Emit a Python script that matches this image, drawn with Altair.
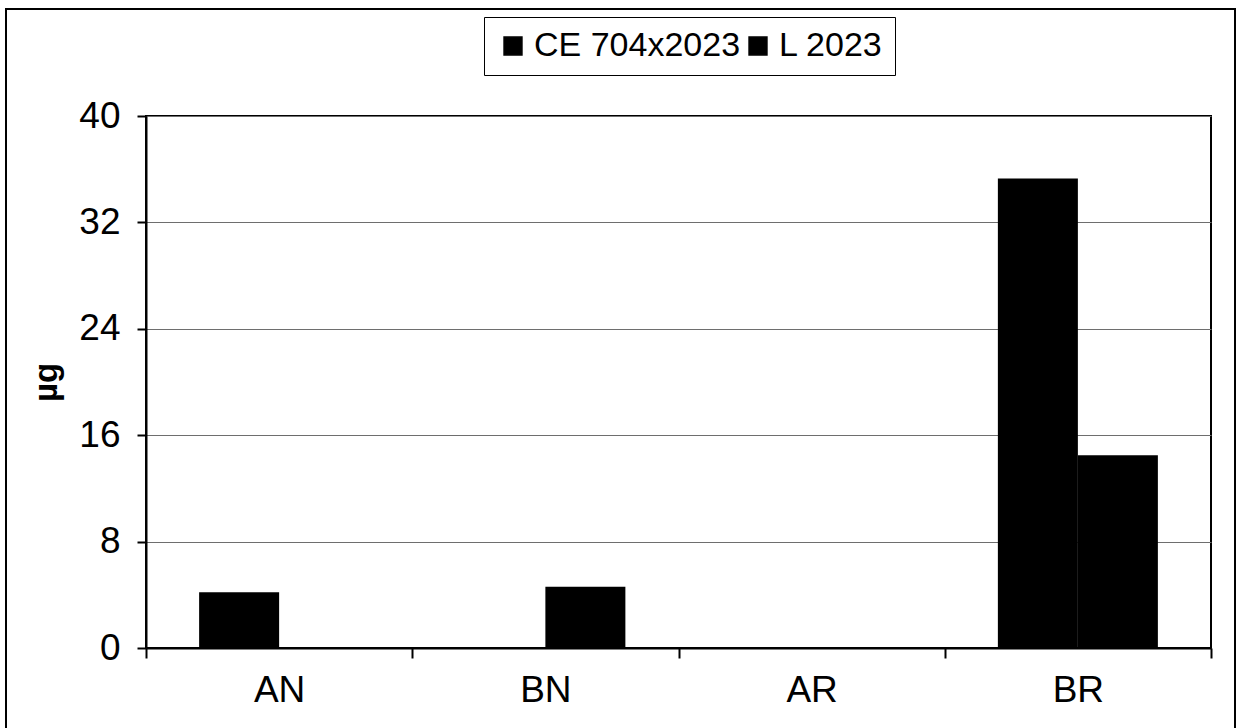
import altair as alt
import pandas as pd

# Categories and series
categories = ["AN", "BN", "AR", "BR"]
series = ["CE 704x2023", "L 2023"]
ce_values = [4.2, 0.0, 0.0, 35.3]
l_values = [0.0, 4.6, 0.0, 14.5]
y_ticks = [0, 8, 16, 24, 32, 40]

rows = []
for cat, ce, l in zip(categories, ce_values, l_values):
    rows.append({"cat": cat, "series": series[0], "value": ce})
    rows.append({"cat": cat, "series": series[1], "value": l})
df = pd.DataFrame(rows)

FONT = "Liberation Sans"
PLOT_W, PLOT_H = 1065, 532

bars = alt.Chart(df).mark_bar(color="black").encode(
    x=alt.X(
        "cat:N",
        sort=categories,
        scale=alt.Scale(paddingInner=0, paddingOuter=0),
        axis=alt.Axis(
            title=None,
            labelAngle=0,
            labelFontSize=37,
            labelFont=FONT,
            labelColor="black",
            labelPadding=14,
            tickBand="extent",
            tickSize=10,
            tickColor="black",
            tickWidth=2,
            domainColor="black",
            domainWidth=2,
            grid=False,
        ),
    ),
    xOffset=alt.XOffset(
        "series:N",
        sort=series,
        scale=alt.Scale(paddingInner=0, paddingOuter=0.664),
    ),
    y=alt.Y(
        "value:Q",
        scale=alt.Scale(domain=[0, 40], nice=False),
        axis=alt.Axis(
            values=y_ticks,
            title="µg",
            titleFont=FONT,
            titleFontSize=33,
            titleFontWeight="bold",
            titleColor="black",
            titleX=-100,
            titleY=PLOT_H / 2,
            titleAngle=-90,
            titleAlign="center",
            titleBaseline="middle",
            labelFontSize=37,
            labelFont=FONT,
            labelColor="black",
            labelPadding=17,
            tickSize=9,
            tickColor="black",
            tickWidth=2,
            domainColor="black",
            domainWidth=2,
            gridColor="#6e6e6e",
            gridWidth=1.2,
        ),
    ),
    color=alt.Color(
        "series:N",
        sort=series,
        scale=alt.Scale(domain=series, range=["black", "black"]),
        legend=alt.Legend(
            title=None,
            orient="none",
            legendX=338,
            legendY=-99,
            direction="horizontal",
            symbolType="square",
            symbolSize=320,
            symbolFillColor="black",
            symbolStrokeColor="black",
            labelFont=FONT,
            labelFontSize=34,
            labelColor="black",
            labelLimit=400,
            columnPadding=0,
            labelOffset=4,
            strokeColor="black",
            padding=12,
            fillColor="white",
        ),
    ),
)

# Outer chart-area frame
frame = alt.Chart(pd.DataFrame({"k": [0]})).mark_rect(
    fill=None, stroke="black", strokeWidth=2, clip=False
).encode(
    x=alt.value(-140),
    x2=alt.value(1089),
    y=alt.value(-107),
    y2=alt.value(640),
)

chart = (
    alt.layer(frame, bars)
    .properties(
        width=PLOT_W,
        height=PLOT_H,
        autosize=alt.AutoSizeParams(type="none"),
        padding={"left": 146, "top": 116, "right": 30, "bottom": 80},
        background="white",
    )
    .configure_view(stroke="black", strokeWidth=2)
)

chart.save("out.html", embed_options={"renderer": "svg", "actions": False})
